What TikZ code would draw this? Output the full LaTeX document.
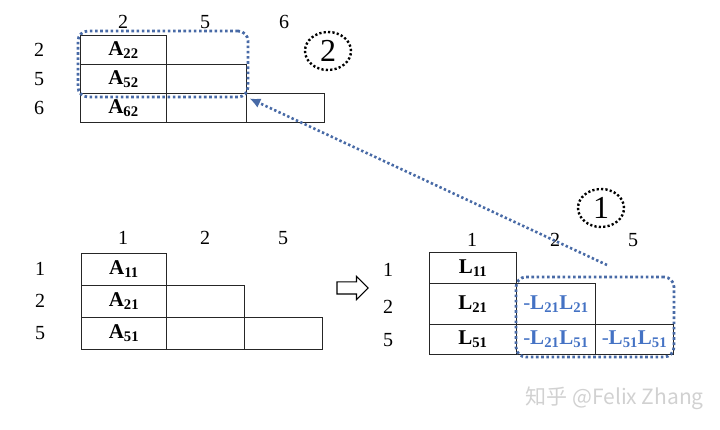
\documentclass[tikz,border=0pt]{standalone}
\usepackage{fontspec}
\setmainfont{Liberation Serif}
\newfontfamily\cjkfont{Noto Sans CJK SC}
\usetikzlibrary{arrows.meta,shapes.geometric,shapes.arrows}
\definecolor{dotblue}{RGB}{72,106,166}
\definecolor{entblue}{RGB}{68,114,196}
\newcommand{\ent}[2]{\textbf{#1\textsubscript{#2}}}
\tikzset{
  cell/.style={draw=black!85, line width=0.9pt, anchor=north west, inner sep=0pt,
    minimum height=#1, font=\fontsize{21}{24}\selectfont},
  cell/.default=29,
  lbl/.style={font=\fontsize{20}{24}\selectfont, inner sep=0pt},
  selbox/.style={draw=dotblue, line width=2.8pt, dash pattern=on 2.6pt off 2.6pt,
    rounded corners=10pt, inner sep=0pt},
  circnum/.style={draw=black, ellipse, line width=2.4pt, dash pattern=on 2.2pt off 2.2pt,
    minimum width=46, minimum height=38, inner sep=0pt, font=\fontsize{32}{34}\selectfont},
  link/.style={dotblue, line width=2.6pt, dash pattern=on 2.4pt off 2.4pt,
    -{Latex[length=11pt,width=10pt]}}
}

\begin{document}
\begin{tikzpicture}[x=1pt,y=-1pt]
  \useasboundingbox (0,0) rectangle (720,430);
  % top block
  \foreach \lab/\x in {2/123,5/205,6/284}
    \node[lbl] (tc\lab) at (\x,22) {\lab};
  \foreach \lab/\y in {2/50,5/79,6/108}
    \node[lbl] (tr\lab) at (39,\y) {\lab};
  \node[cell, minimum width=86] (a22) at (80,35) {\ent{A}{22}};
  \node[cell, minimum width=86] (a52) at (80,64) {\ent{A}{52}};
  \node[cell, minimum width=80] (a55) at (166,64) {};
  \node[cell, minimum width=86] (a62) at (80,93) {\ent{A}{62}};
  \node[cell, minimum width=80] (a65) at (166,93) {};
  \node[cell, minimum width=78] (a66) at (246,93) {};
  \node[selbox, minimum width=170, minimum height=66] (sel2) at (163,64) {};
  \node[circnum] (num2) at (328,51) {2};

  % bottom left block
  \foreach \lab/\x in {1/123,2/205,5/283}
    \node[lbl] (lc\lab) at (\x,238) {\lab};
  \foreach \lab/\y in {1/269,2/301,5/333}
    \node[lbl] (lr\lab) at (40,\y) {\lab};
  \node[cell=32, minimum width=85] (a11) at (81,253) {\ent{A}{11}};
  \node[cell=32, minimum width=85] (a21) at (81,285) {\ent{A}{21}};
  \node[cell=32, minimum width=78] (b22) at (166,285) {};
  \node[cell=32, minimum width=85] (a51) at (81,317) {\ent{A}{51}};
  \node[cell=32, minimum width=78] (b52) at (166,317) {};
  \node[cell=32, minimum width=78] (b55) at (244,317) {};

  \node[draw=black, line width=1.1pt, single arrow, single arrow head extend=5.5pt,
    inner xsep=0pt, inner ysep=5.5pt, minimum height=31] (then) at (349.5,288) {};

  % bottom right block
  \foreach \lab/\x in {1/472,2/555,5/633}
    \node[lbl] (rc\lab) at (\x,240) {\lab};
  \foreach \lab/\y in {1/270,2/307,5/340}
    \node[lbl] (rr\lab) at (388,\y) {\lab};
  \node[cell=31, minimum width=87] (l11) at (429,252) {\ent{L}{11}};
  \node[cell=41, minimum width=87] (l21) at (429,283) {\ent{L}{21}};
  \node[cell=41, minimum width=79, text=entblue] (u22) at (516,283) {-\ent{L}{21}\ent{L}{21}};
  \node[cell=30, minimum width=87] (l51) at (429,324) {\ent{L}{51}};
  \node[cell=30, minimum width=79, text=entblue] (u52) at (516,324) {-\ent{L}{21}\ent{L}{51}};
  \node[cell=30, minimum width=78, text=entblue] (u55) at (595,324) {-\ent{L}{51}\ent{L}{51}};
  \node[selbox, minimum width=158, minimum height=80] (sel1) at (595,317) {};
  \node[circnum] (num1) at (601,208) {1};

  \coordinate (upd) at (607,265);
  \draw[link] (upd) -- (sel2.south east);

  \node[anchor=east, inner sep=0pt, text=black!18, font=\cjkfont\fontsize{21}{24}\selectfont]
    (wm) at (704,398) {知乎 @Felix Zhang};
\end{tikzpicture}
\end{document}
